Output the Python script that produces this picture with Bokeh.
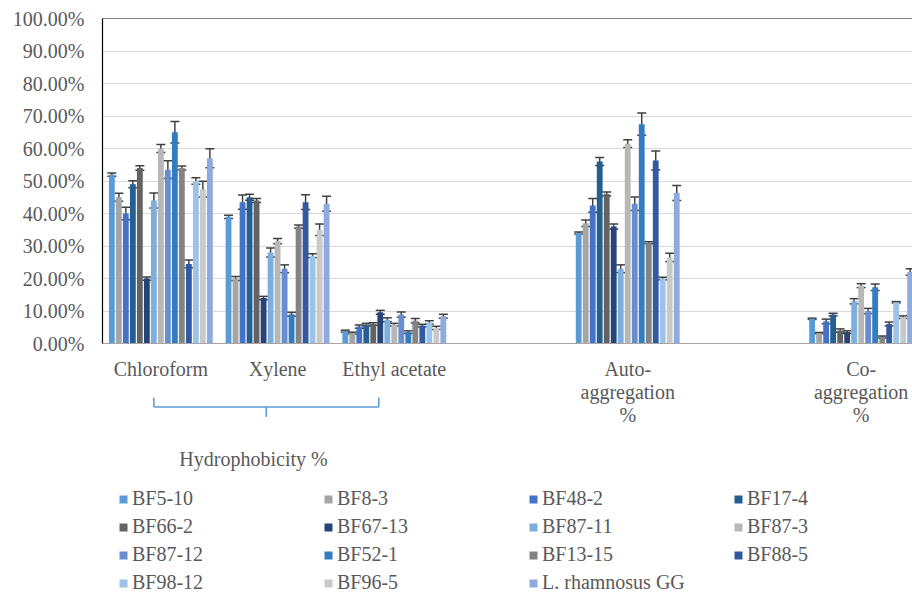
from bokeh.plotting import figure
from bokeh.models import (ColumnDataSource, Range1d, FixedTicker, NumeralTickFormatter,
                          Whisker, TeeHead, Legend, LegendItem, Label, Span)
from bokeh.embed import file_html
from bokeh.resources import INLINE

# ---------------- data ----------------
series = ["BF5-10", "BF8-3", "BF48-2", "BF17-4", "BF66-2", "BF67-13", "BF87-11", "BF87-3",
          "BF87-12", "BF52-1", "BF13-15", "BF88-5", "BF98-12", "BF96-5", "L. rhamnosus GG"]
colors = ["#5B9BD5", "#A5A5A5", "#4472C4", "#255E91", "#636363", "#264478", "#7CAFDD", "#B7B7B7",
          "#698ED0", "#327DC2", "#848484", "#335AA1", "#9DC3E6", "#C9C9C9", "#8FAADC"]

categories = ["Chloroform", "Xylene", "Ethyl acetate", "", "Auto-\naggregation\n%", "", "Co-\naggregation\n%"]

# values in percent, one entry per series
chloroform = [52, 45, 40, 49, 54, 20, 44, 60, 53.5, 65, 54, 24.5, 50, 47.5, 57]
chloroform_err = [0.5, 1.2, 1.9, 1.1, 0.7, 0.5, 2.3, 1.2, 2.7, 3.3, 0.6, 1.2, 1.0, 2.4, 2.9]
xylene = [39, 20, 43.5, 45, 44, 14, 28, 31.5, 23, 9, 36, 43.5, 27, 35, 43]
xylene_err = [0.5, 0.6, 2.2, 0.9, 0.6, 0.5, 1.4, 0.8, 1.2, 0.6, 0.5, 2.3, 0.6, 1.8, 2.3]
ethyl_acetate = [3.8, 3.2, 5.2, 5.8, 6.0, 9.6, 7.3, 5.8, 8.9, 3.5, 7.0, 5.5, 6.5, 4.8, 8.4]
ethyl_acetate_err = [0.3, 0.3, 0.5, 0.4, 0.4, 0.6, 0.6, 0.4, 0.8, 0.4, 0.7, 0.4, 0.5, 0.5, 0.6]
auto_aggregation = [34, 37, 42.5, 56, 46, 36, 23, 61.5, 43, 67.5, 31, 56.3, 20, 26.5, 46.3]
auto_aggregation_err = [0.3, 1.0, 2.1, 1.2, 0.6, 0.8, 1.2, 1.2, 2.1, 3.4, 0.3, 2.9, 0.4, 1.3, 2.3]
co_aggregation = [7.6, 3.2, 6.8, 8.9, 4.0, 3.5, 13, 17.8, 10, 17.3, 2.0, 6.0, 12.7, 8.1, 22]
co_aggregation_err = [0.2, 0.2, 0.7, 0.4, 0.5, 0.4, 0.8, 0.6, 0.8, 1.0, 0.3, 0.6, 0.2, 0.4, 1.0]

category_values = [chloroform, xylene, ethyl_acetate, None, auto_aggregation, None, co_aggregation]
category_errors = [chloroform_err, xylene_err, ethyl_acetate_err, None, auto_aggregation_err, None, co_aggregation_err]

group_title = "Hydrophobicity %"
y_ticks = [i / 10 for i in range(11)]

FONT = "Liberation Serif"
TXT = "#595959"

# ---------------- figure ----------------
# frame extends to the bottom of the canvas so that the bracket, group title and
# legend (below the value area) are drawn inside it
p = figure(width=912, height=593, output_backend="svg", toolbar_location=None,
           x_range=Range1d(-0.5, 6.44), y_range=Range1d(-0.7692, 1.0),
           min_border_left=102, min_border_right=0, min_border_top=18, min_border_bottom=0)
p.outline_line_color = None

slot = 0.06
bar_w = 0.05
n = len(series)

wx, wup, wlo = [], [], []
items = []
for i, name in enumerate(series):
    xs, tops = [], []
    for k, (vals, errs) in enumerate(zip(category_values, category_errors)):
        if vals is None:
            continue
        x = k + (i - (n - 1) / 2) * slot
        xs.append(x)
        tops.append(vals[i] / 100)
        wx.append(x)
        wup.append((vals[i] + errs[i]) / 100)
        wlo.append((vals[i] - errs[i]) / 100)
    r = p.vbar(x=xs, top=tops, width=bar_w, fill_color=colors[i], line_color=None)
    items.append(LegendItem(label=name, renderers=[r]))

wsrc = ColumnDataSource(dict(base=wx, upper=wup, lower=wlo))
ecol = "#404040"
whisk = Whisker(source=wsrc, base="base", upper="upper", lower="lower",
                line_color=ecol, line_width=1.5,
                upper_head=TeeHead(size=9, line_color=ecol, line_width=1.5),
                lower_head=TeeHead(size=9, line_color=ecol, line_width=1.5))
p.add_layout(whisk)

# y axis (only over the 0..100 % part)
p.yaxis.ticker = FixedTicker(ticks=y_ticks)
p.yaxis.bounds = (0, 1)
p.yaxis.formatter = NumeralTickFormatter(format="0.00%")
p.yaxis.major_tick_out = 0
p.yaxis.major_tick_in = 0
p.yaxis.minor_tick_out = 0
p.yaxis.minor_tick_in = 0
p.yaxis.axis_line_color = "black"
p.yaxis.axis_line_width = 1.2
p.yaxis.major_label_standoff = 18
p.yaxis.major_label_text_font = FONT
p.yaxis.major_label_text_font_size = "20px"
p.yaxis.major_label_text_color = TXT

# category axis, fixed at zero
p.xaxis.fixed_location = 0
p.xaxis.ticker = FixedTicker(ticks=list(range(len(categories))))
p.xaxis.major_label_overrides = {k: c for k, c in enumerate(categories)}
p.xaxis.major_tick_out = 0
p.xaxis.major_tick_in = 0
p.xaxis.minor_tick_out = 0
p.xaxis.minor_tick_in = 0
p.xaxis.axis_line_color = "#A6A6A6"
p.xaxis.major_label_standoff = 14
p.xaxis.major_label_text_font = FONT
p.xaxis.major_label_text_font_size = "20px"
p.xaxis.major_label_text_color = TXT
p.xaxis.major_label_text_line_height = 1.05

p.xgrid.grid_line_color = None
p.ygrid.grid_line_color = "#D9D9D9"
p.ygrid.grid_line_width = 1

p.add_layout(Span(location=1, dimension="width", line_color="black", line_width=1.2))

# bracket under the hydrophobicity categories
bcol = "#5B9BD5"
bl, br, bm = -0.06, 1.867, 0.903
by, btop, bbot = -0.195, -0.166, -0.226
p.segment(x0=[bl, bl, br, bm], y0=[btop, by, by, by],
          x1=[bl, br, br, bm], y1=[by, by, btop, bbot],
          line_color=bcol, line_width=1.5)

p.add_layout(Label(x=0.794, y=-0.354, text=group_title, text_align="center",
                   text_baseline="middle", text_font=FONT, text_font_size="20px",
                   text_color=TXT))

legend = Legend(items=items, location=(16, -1), orientation="horizontal", ncols=4,
                glyph_width=10, glyph_height=10, label_standoff=4, label_width=186,
                label_height=22, spacing=5, padding=0, margin=0,
                border_line_color=None, background_fill_alpha=0,
                label_text_font=FONT, label_text_font_size="20px", label_text_color=TXT)
p.add_layout(legend)

open("out.html", "w").write(file_html(p, INLINE))
